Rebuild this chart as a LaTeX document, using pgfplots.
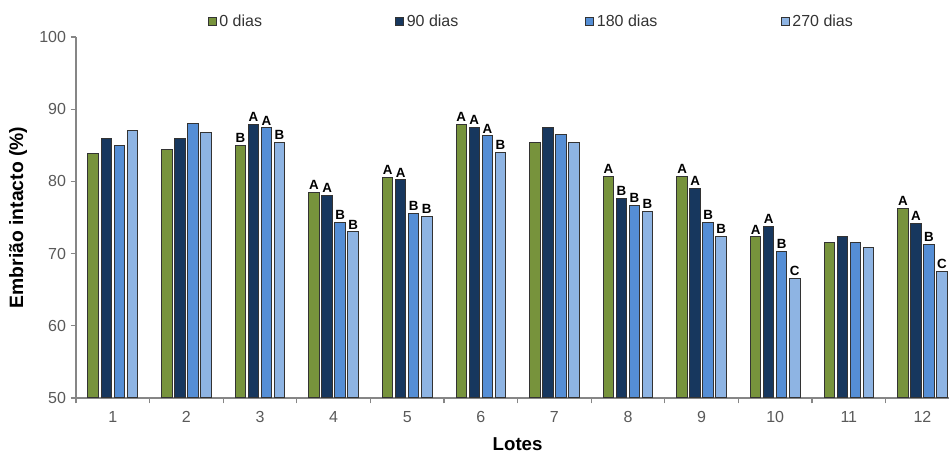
\documentclass[border=0pt]{standalone}
\usepackage{pgfplots}
\usepackage{pgfplotstable}
\pgfplotsset{compat=1.18}
\usepackage{fontspec}
\setmainfont{Liberation Sans}
\definecolor{cGreen}{RGB}{119,147,60}
\definecolor{cNavy}{RGB}{23,55,94}
\definecolor{cMid}{RGB}{85,142,213}
\definecolor{cLight}{RGB}{142,180,227}
\definecolor{axisgray}{RGB}{134,134,134}
\definecolor{ticktext}{RGB}{89,89,89}

\pgfplotstableread{
lot v lab
1 83.9 {}
2 84.4 {}
3 85.0 B
4 78.5 A
5 80.5 A
6 87.9 A
7 85.4 {}
8 80.7 A
9 80.7 A
10 72.3 A
11 71.5 {}
12 76.2 A
}\dZero
\pgfplotstableread{
lot v lab
1 85.9 {}
2 86.0 {}
3 87.9 A
4 78.1 A
5 80.2 A
6 87.5 A
7 87.5 {}
8 77.7 B
9 79.0 A
10 73.7 A
11 72.4 {}
12 74.2 A
}\dNinety
\pgfplotstableread{
lot v lab
1 85.0 {}
2 88.0 {}
3 87.4 A
4 74.3 B
5 75.6 B
6 86.3 A
7 86.5 {}
8 76.7 B
9 74.3 B
10 70.3 B
11 71.5 {}
12 71.3 B
}\dOneEighty
\pgfplotstableread{
lot v lab
1 87.0 {}
2 86.8 {}
3 85.4 B
4 73.0 B
5 75.1 B
6 84.0 B
7 85.4 {}
8 75.8 B
9 72.4 B
10 66.5 C
11 70.8 {}
12 67.5 C
}\dTwoSeventy

\begin{document}
\begin{tikzpicture}
\useasboundingbox (0,0) rectangle (711.75pt,342pt);
\begin{axis}[
  at={(57pt,43.5pt)}, anchor=south west,
  scale only axis,
  width=662.4pt, height=270.75pt,
  xmin=0.5, xmax=12.5, ymin=50, ymax=100,
  ybar, bar width=0.143,
  axis x line*=bottom, axis y line*=left,
  axis line style={-, draw=axisgray, line width=0.8pt},
  tick align=outside,
  xtick={1,...,12},
  minor xtick={0.5,1.5,...,11.5},
  major x tick style={draw=none},
  minor x tick style={draw=axisgray, line width=0.8pt},
  minor tick length=4pt,
  ytick={50,60,...,100},
  major y tick style={draw=axisgray, line width=0.8pt},
  major tick length=4pt,
  /pgf/number format/assume math mode=true,
  tick label style={font=\fontsize{12}{13}\selectfont, text=ticktext},
  xticklabel style={yshift=-2.5pt},
  xlabel={Lotes},
  ylabel={Embrião intacto (\%)},
  xlabel style={font=\bfseries\fontsize{14}{16}\selectfont, at={(axis description cs:0.5,-0.145)}, anchor=base, inner sep=0pt},
  ylabel style={font=\bfseries\fontsize{14.5}{16}\selectfont, at={(axis description cs:-0.055,0.5)}, anchor=south, inner sep=0pt},
  point meta=explicit symbolic,
  nodes near coords,
  every node near coord/.append style={font=\bfseries\fontsize{10}{11}\selectfont, text=black, anchor=south, inner sep=1.8pt},
  legend columns=4,
  legend style={at={(axis description cs:0.149,1.042)}, anchor=west, draw=none, fill=none, inner sep=0pt,
    font=\fontsize{12}{13}\selectfont, text=black!80,
    /tikz/every even column/.append style={column sep=0pt}},
  legend image code/.code={\draw[#1, draw=black!80, line width=0.6pt] (0pt,-3pt) rectangle (6pt,3pt);},
]
\addplot[fill=cGreen, draw=black!80, line width=0.75pt, bar shift=-0.2655] table[x=lot, y=v, meta=lab] {\dZero};
\addlegendentry{\makebox[130pt][l]{0 dias}}
\addplot[fill=cNavy, draw=black!80, line width=0.75pt, bar shift=-0.0885] table[x=lot, y=v, meta=lab] {\dNinety};
\addlegendentry{\makebox[132pt][l]{90 dias}}
\addplot[fill=cMid, draw=black!80, line width=0.75pt, bar shift=0.0885] table[x=lot, y=v, meta=lab] {\dOneEighty};
\addlegendentry{\makebox[136pt][l]{180 dias}}
\addplot[fill=cLight, draw=black!80, line width=0.75pt, bar shift=0.2655] table[x=lot, y=v, meta=lab] {\dTwoSeventy};
\addlegendentry{270 dias}
\end{axis}
\end{tikzpicture}
\end{document}
